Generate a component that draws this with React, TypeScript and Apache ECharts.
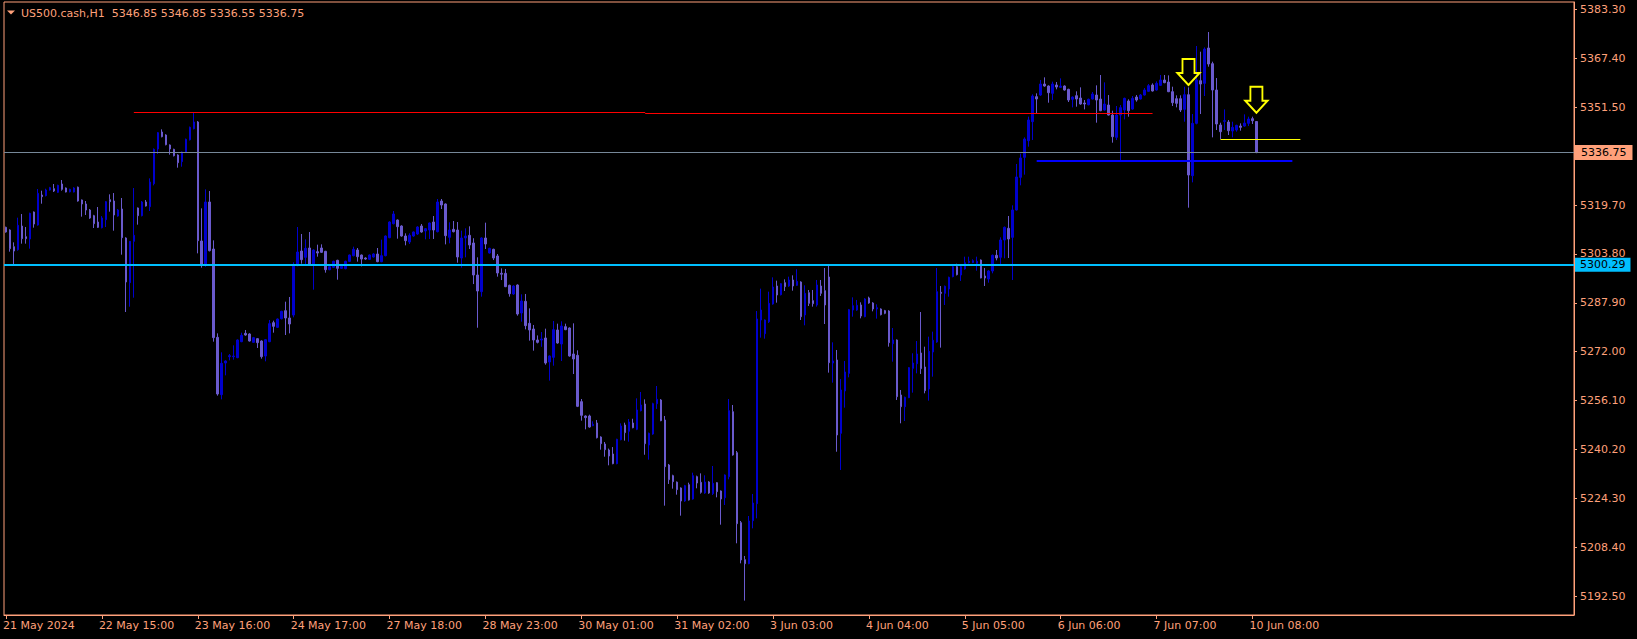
import React, { useEffect, useRef } from 'react';
import * as echarts from 'echarts';

const SYMBOL = 'US500.cash,H1';
const SALMON = '#ffa07a';
const BULL = '#0000cd';
const BEAR = '#6a5acd';

const TOTAL_SLOTS = 393;
const LABEL_STEP = 24;
const timeLabels = [
  '21 May 2024', '22 May 15:00', '23 May 16:00', '24 May 17:00', '27 May 18:00',
  '28 May 23:00', '30 May 01:00', '31 May 02:00', '3 Jun 03:00', '4 Jun 04:00',
  '5 Jun 05:00', '6 Jun 06:00', '7 Jun 07:00', '10 Jun 08:00',
];

const priceTicks = [
  5192.5, 5208.4, 5224.3, 5240.2, 5256.1, 5272.0, 5287.9, 5303.8,
  5319.7, 5335.6, 5351.5, 5367.4, 5383.3,
];
// 5335.60 sits under the current-price box in the reference, so its label is not drawn
const priceLabels = [
  5192.5, 5208.4, 5224.3, 5240.2, 5256.1, 5272.0, 5287.9, 5303.8,
  5319.7, 5351.5, 5367.4, 5383.3,
];
const priceMin = 5186.39;
const priceMax = 5385.71;

const open = [
  5312.44, 5311.57, 5306.15, 5305.18, 5312.87, 5309.40, 5308.65, 5317.42, 5313.20, 5322.95,
  5322.74, 5324.58, 5325.01, 5323.82, 5326.53, 5325.23, 5324.00, 5323.93, 5325.50, 5321.33,
  5320.03, 5318.07, 5316.23, 5314.17, 5312.33, 5314.93, 5321.43, 5321.00, 5316.12, 5318.40,
  5308.97, 5294.45, 5307.89, 5318.73, 5316.23, 5320.68, 5319.16, 5326.64, 5337.91, 5343.44,
  5342.46, 5339.21, 5337.80, 5335.96, 5333.79, 5336.82, 5340.94, 5344.52, 5346.69, 5308.00,
  5300.30, 5320.68, 5305.39, 5276.67, 5258.03, 5268.33, 5270.39, 5270.39, 5270.06, 5275.26,
  5277.97, 5277.76, 5275.05, 5276.24, 5275.48, 5270.60, 5275.26, 5281.44, 5279.92, 5282.74,
  5285.34, 5282.96, 5283.93, 5299.98, 5304.74, 5302.68, 5305.72, 5300.52, 5304.53, 5305.72,
  5304.64, 5298.67, 5299.43, 5301.71, 5299.11, 5299.00, 5301.38, 5303.23, 5305.07, 5303.44,
  5302.47, 5302.03, 5302.79, 5303.77, 5301.28, 5303.23, 5309.08, 5313.63, 5314.82, 5312.87,
  5309.62, 5307.67, 5309.62, 5310.27, 5312.87, 5311.25, 5311.57, 5314.17, 5311.03, 5321.00,
  5320.03, 5309.19, 5311.79, 5311.57, 5302.47, 5308.97, 5309.84, 5307.35, 5296.94, 5291.52,
  5308.97, 5304.10, 5305.29, 5303.12, 5297.50, 5297.48, 5293.58, 5290.76, 5293.69, 5284.59,
  5288.38, 5281.23, 5279.38, 5275.81, 5275.80, 5276.46, 5268.65, 5270.17, 5279.06, 5274.51,
  5280.14, 5279.71, 5271.26, 5270.82, 5255.76, 5251.10, 5251.10, 5247.95, 5248.82, 5244.27,
  5241.99, 5240.04, 5238.74, 5235.60, 5243.40, 5248.17, 5246.11, 5248.82, 5246.76, 5252.83,
  5255.00, 5241.67, 5245.24, 5255.10, 5256.30, 5249.80, 5235.16, 5231.70, 5229.60, 5227.69,
  5223.46, 5228.77, 5224.11, 5231.37, 5229.53, 5226.06, 5229.64, 5225.85, 5229.42, 5226.71,
  5224.54, 5231.37, 5252.50, 5239.17, 5216.42, 5204.39, 5203.08, 5217.07, 5222.59, 5282.31,
  5277.87, 5281.77, 5287.51, 5293.37, 5290.55, 5294.45, 5293.37, 5295.32, 5293.58, 5294.67,
  5283.94, 5291.20, 5288.60, 5287.19, 5293.37, 5291.85, 5296.29, 5268.33, 5269.31, 5245.47,
  5259.23, 5264.97, 5285.56, 5285.56, 5287.19, 5283.40, 5289.47, 5287.84, 5285.89, 5285.89,
  5285.35, 5285.24, 5274.62, 5275.81, 5257.93, 5254.13, 5257.06, 5266.60, 5268.11, 5271.59,
  5267.03, 5259.88, 5271.91, 5275.16, 5291.31, 5290.98, 5292.39, 5296.40, 5299.65, 5296.94,
  5298.90, 5300.95, 5301.00, 5300.74, 5301.82, 5296.62, 5295.64, 5298.24, 5303.34, 5302.69,
  5308.32, 5312.12, 5309.19, 5318.08, 5328.70, 5335.20, 5340.62, 5346.80, 5354.93, 5355.47,
  5359.04, 5358.39, 5356.01, 5358.72, 5357.96, 5358.39, 5357.31, 5354.06, 5355.25, 5354.49,
  5352.87, 5352.32, 5354.16, 5355.46, 5354.16, 5350.59, 5352.21, 5348.96, 5341.70, 5348.96,
  5350.59, 5353.51, 5350.91, 5354.81, 5354.16, 5355.46, 5356.66, 5358.72, 5357.09, 5358.61,
  5360.34, 5359.69, 5356.55, 5354.27, 5354.27, 5350.80, 5355.57, 5329.24, 5346.25, 5360.12,
  5359.26, 5370.75, 5365.65, 5357.09, 5345.71, 5346.90, 5346.69, 5343.76, 5344.09, 5345.38,
  5345.38, 5346.25, 5347.77, 5346.85,
];
const high = [
  5312.66, 5311.80, 5307.56, 5315.58, 5316.77, 5312.55, 5317.20, 5317.60, 5324.90, 5324.36,
  5325.00, 5325.60, 5326.53, 5326.30, 5327.83, 5325.40, 5325.00, 5325.50, 5325.70, 5321.50,
  5321.00, 5318.40, 5316.50, 5319.05, 5316.10, 5321.00, 5323.17, 5323.60, 5318.40, 5321.98,
  5309.20, 5308.00, 5325.23, 5318.90, 5321.00, 5321.33, 5328.37, 5338.10, 5343.44, 5344.30,
  5342.70, 5339.40, 5338.00, 5336.20, 5337.10, 5341.30, 5345.20, 5349.94, 5347.00, 5318.62,
  5324.79, 5324.25, 5308.21, 5277.97, 5271.80, 5269.20, 5271.25, 5274.07, 5276.00, 5278.19,
  5279.06, 5278.00, 5276.80, 5276.40, 5275.70, 5276.10, 5282.31, 5282.09, 5282.80, 5285.30,
  5288.27, 5289.79, 5301.06, 5312.55, 5310.27, 5308.54, 5310.92, 5305.30, 5306.80, 5306.91,
  5304.80, 5300.00, 5301.60, 5301.90, 5300.00, 5301.60, 5303.60, 5306.15, 5305.72, 5303.60,
  5302.70, 5303.60, 5304.00, 5305.72, 5308.43, 5309.80, 5314.40, 5317.75, 5315.00, 5313.10,
  5310.49, 5310.49, 5311.10, 5312.80, 5313.52, 5312.20, 5314.00, 5316.12, 5321.65, 5321.65,
  5320.20, 5314.07, 5314.50, 5314.17, 5311.36, 5312.11, 5312.77, 5308.90, 5302.69, 5309.20,
  5313.96, 5305.80, 5305.50, 5303.77, 5299.10, 5298.90, 5293.80, 5293.60, 5293.90, 5290.66,
  5290.77, 5286.10, 5280.70, 5277.30, 5278.40, 5279.49, 5270.80, 5281.99, 5281.12, 5281.88,
  5281.12, 5279.90, 5281.23, 5272.45, 5256.62, 5251.30, 5251.53, 5249.36, 5249.80, 5244.50,
  5242.65, 5240.50, 5241.00, 5243.70, 5248.70, 5248.93, 5250.12, 5250.20, 5256.84, 5258.90,
  5256.50, 5245.70, 5255.40, 5260.85, 5256.60, 5251.10, 5235.50, 5232.00, 5229.80, 5227.90,
  5228.70, 5229.42, 5232.67, 5231.70, 5232.45, 5231.80, 5229.90, 5234.84, 5229.60, 5226.90,
  5232.10, 5256.62, 5254.67, 5239.72, 5216.96, 5205.58, 5218.58, 5225.74, 5285.24, 5292.50,
  5282.50, 5291.52, 5296.18, 5295.10, 5294.30, 5295.53, 5296.40, 5296.83, 5298.80, 5294.90,
  5293.58, 5292.07, 5292.07, 5295.32, 5295.32, 5299.22, 5300.52, 5275.05, 5272.56, 5263.12,
  5268.98, 5285.90, 5289.68, 5288.82, 5288.06, 5289.40, 5289.90, 5288.10, 5287.41, 5286.10,
  5285.60, 5285.50, 5279.71, 5276.00, 5259.55, 5257.40, 5267.00, 5271.48, 5275.48, 5284.91,
  5273.64, 5276.89, 5278.52, 5299.22, 5293.37, 5293.50, 5296.40, 5300.52, 5300.60, 5299.90,
  5302.90, 5302.90, 5302.04, 5302.90, 5302.00, 5299.22, 5298.50, 5303.60, 5305.07, 5309.19,
  5312.70, 5316.13, 5319.60, 5333.04, 5336.40, 5341.70, 5348.43, 5355.69, 5356.01, 5360.35,
  5361.21, 5358.60, 5359.80, 5359.69, 5360.88, 5358.60, 5357.50, 5355.00, 5356.66, 5357.96,
  5353.84, 5354.30, 5356.44, 5358.61, 5361.97, 5359.58, 5355.46, 5350.37, 5351.89, 5352.21,
  5354.60, 5354.06, 5355.14, 5355.46, 5355.79, 5357.74, 5359.04, 5359.26, 5359.91, 5361.97,
  5361.97, 5361.86, 5358.17, 5355.36, 5355.36, 5358.17, 5357.96, 5349.29, 5371.40, 5369.55,
  5370.96, 5375.95, 5366.30, 5360.99, 5346.47, 5350.80, 5347.34, 5346.79, 5345.80, 5346.25,
  5349.18, 5348.42, 5348.42, 5346.85,
];
const low = [
  5310.71, 5304.53, 5300.19, 5304.85, 5307.13, 5307.13, 5305.50, 5312.33, 5313.00, 5320.13,
  5322.50, 5324.40, 5323.93, 5323.60, 5324.36, 5323.80, 5323.80, 5323.80, 5320.80, 5315.91,
  5316.45, 5315.20, 5312.22, 5312.22, 5312.10, 5312.55, 5317.53, 5311.35, 5315.90, 5303.55,
  5284.91, 5286.64, 5289.57, 5313.31, 5316.00, 5319.20, 5317.75, 5326.09, 5336.28, 5341.70,
  5339.10, 5336.07, 5335.50, 5331.84, 5332.16, 5336.60, 5340.70, 5344.30, 5303.98, 5299.32,
  5299.65, 5304.60, 5275.26, 5257.71, 5256.51, 5264.32, 5269.20, 5269.41, 5269.90, 5275.10,
  5277.20, 5275.30, 5274.90, 5273.21, 5269.74, 5268.87, 5275.10, 5278.19, 5279.70, 5282.50,
  5277.43, 5277.97, 5283.18, 5299.80, 5300.63, 5300.19, 5300.10, 5292.17, 5302.90, 5304.10,
  5297.70, 5298.50, 5299.20, 5295.42, 5298.90, 5298.80, 5301.20, 5303.00, 5301.28, 5299.76,
  5301.90, 5301.80, 5302.60, 5301.10, 5301.10, 5303.00, 5308.90, 5313.40, 5308.75, 5309.40,
  5306.59, 5307.02, 5309.40, 5310.00, 5310.70, 5308.54, 5308.65, 5308.65, 5310.80, 5318.40,
  5306.90, 5307.24, 5310.80, 5300.95, 5299.33, 5302.69, 5305.40, 5294.00, 5279.80, 5289.90,
  5305.40, 5303.90, 5301.80, 5296.40, 5295.30, 5293.00, 5289.90, 5290.50, 5283.72, 5281.77,
  5279.27, 5275.59, 5272.34, 5274.70, 5273.60, 5267.79, 5262.60, 5267.46, 5274.60, 5268.98,
  5279.00, 5270.39, 5264.75, 5254.00, 5249.58, 5246.76, 5247.30, 5247.80, 5243.80, 5240.15,
  5237.87, 5235.06, 5235.40, 5235.40, 5243.20, 5243.08, 5242.75, 5247.10, 5246.50, 5252.60,
  5238.50, 5236.90, 5245.00, 5253.40, 5249.40, 5221.94, 5229.00, 5227.47, 5225.52, 5218.69,
  5223.20, 5223.60, 5223.90, 5227.58, 5225.85, 5225.80, 5225.80, 5225.41, 5224.65, 5215.76,
  5222.16, 5230.50, 5238.20, 5209.70, 5203.19, 5191.06, 5202.90, 5214.57, 5217.82, 5276.57,
  5276.24, 5281.34, 5287.30, 5287.95, 5290.30, 5291.74, 5293.10, 5291.85, 5293.40, 5282.31,
  5280.58, 5286.86, 5286.65, 5286.65, 5290.12, 5281.01, 5265.19, 5261.94, 5239.48, 5233.54,
  5253.81, 5263.67, 5283.40, 5285.30, 5282.85, 5283.20, 5287.60, 5285.13, 5282.75, 5283.80,
  5284.20, 5273.64, 5268.77, 5256.30, 5248.72, 5249.48, 5256.90, 5258.69, 5264.97, 5264.76,
  5258.47, 5256.09, 5263.89, 5274.90, 5273.32, 5287.19, 5289.90, 5296.20, 5296.80, 5295.00,
  5298.70, 5300.70, 5300.80, 5298.35, 5295.86, 5293.37, 5294.45, 5297.49, 5301.71, 5300.09,
  5302.36, 5302.47, 5295.32, 5317.90, 5326.10, 5329.57, 5338.67, 5340.84, 5349.51, 5355.20,
  5358.17, 5352.97, 5353.84, 5357.31, 5357.80, 5356.90, 5353.19, 5351.45, 5351.67, 5352.32,
  5350.80, 5352.10, 5354.00, 5346.47, 5350.20, 5350.40, 5348.80, 5339.97, 5340.83, 5334.33,
  5347.55, 5348.42, 5350.70, 5353.30, 5354.00, 5355.30, 5356.50, 5356.60, 5356.90, 5358.40,
  5359.30, 5356.40, 5351.89, 5351.45, 5349.94, 5346.79, 5318.83, 5327.07, 5345.93, 5349.29,
  5355.14, 5364.68, 5341.70, 5344.09, 5341.16, 5344.09, 5342.46, 5341.70, 5343.54, 5343.87,
  5345.17, 5345.38, 5346.04, 5336.55,
];
const close = [
  5310.92, 5305.50, 5304.74, 5313.09, 5308.75, 5308.75, 5316.99, 5313.52, 5323.49, 5322.41,
  5324.58, 5325.34, 5324.25, 5326.09, 5324.79, 5323.93, 5324.79, 5325.23, 5321.00, 5320.03,
  5318.07, 5315.47, 5313.63, 5312.44, 5315.47, 5320.78, 5320.78, 5316.45, 5318.07, 5309.08,
  5294.67, 5307.89, 5309.84, 5316.23, 5320.68, 5319.37, 5327.18, 5337.80, 5343.22, 5341.92,
  5339.32, 5337.91, 5335.74, 5333.46, 5336.93, 5341.05, 5344.95, 5346.69, 5308.10, 5300.41,
  5320.68, 5304.85, 5276.57, 5258.25, 5268.22, 5268.98, 5270.71, 5270.60, 5275.81, 5277.32,
  5277.43, 5275.48, 5276.57, 5274.94, 5270.39, 5275.91, 5281.12, 5280.25, 5282.63, 5285.13,
  5282.96, 5281.01, 5300.30, 5304.42, 5301.93, 5305.61, 5300.30, 5305.07, 5304.09, 5304.31,
  5298.67, 5299.65, 5301.38, 5299.11, 5299.76, 5301.38, 5303.44, 5305.29, 5302.90, 5302.14,
  5302.14, 5303.44, 5303.77, 5301.28, 5303.23, 5309.62, 5314.17, 5316.77, 5312.66, 5309.62,
  5308.10, 5309.84, 5310.92, 5312.55, 5310.92, 5312.01, 5313.85, 5311.57, 5320.68, 5319.70,
  5309.73, 5311.57, 5311.03, 5302.80, 5308.97, 5309.62, 5306.70, 5296.94, 5291.74, 5308.97,
  5307.02, 5305.60, 5302.47, 5297.59, 5297.20, 5293.15, 5290.87, 5293.37, 5284.26, 5288.49,
  5280.47, 5279.06, 5275.81, 5275.05, 5276.13, 5268.33, 5270.61, 5279.17, 5274.83, 5280.36,
  5279.17, 5270.61, 5269.63, 5254.24, 5251.31, 5250.56, 5247.52, 5248.39, 5244.05, 5242.10,
  5240.15, 5238.09, 5235.60, 5243.51, 5247.85, 5245.68, 5249.15, 5247.30, 5253.05, 5254.67,
  5242.10, 5245.46, 5255.10, 5256.50, 5249.58, 5234.62, 5230.40, 5229.75, 5227.15, 5223.46,
  5228.45, 5223.79, 5231.70, 5229.31, 5226.28, 5229.64, 5226.06, 5229.20, 5226.50, 5224.11,
  5231.91, 5252.83, 5238.42, 5216.09, 5204.28, 5203.08, 5216.96, 5222.81, 5282.64, 5285.56,
  5282.31, 5287.73, 5293.04, 5290.44, 5294.12, 5293.15, 5295.32, 5293.37, 5294.88, 5283.39,
  5290.98, 5287.73, 5287.62, 5293.69, 5290.98, 5287.19, 5268.44, 5268.98, 5244.92, 5259.55,
  5265.41, 5285.67, 5286.97, 5287.08, 5283.61, 5289.14, 5287.84, 5285.89, 5286.32, 5284.05,
  5284.48, 5274.94, 5275.81, 5257.39, 5254.13, 5257.17, 5266.82, 5268.33, 5271.26, 5266.49,
  5259.34, 5272.13, 5275.70, 5291.52, 5290.98, 5293.26, 5296.18, 5299.65, 5297.05, 5299.65,
  5300.95, 5301.39, 5301.60, 5301.39, 5295.97, 5295.97, 5298.24, 5303.34, 5302.47, 5308.32,
  5312.44, 5308.65, 5318.08, 5328.81, 5334.99, 5341.16, 5347.34, 5355.14, 5354.17, 5359.05,
  5358.39, 5356.22, 5359.04, 5358.07, 5358.39, 5357.09, 5353.84, 5354.81, 5354.16, 5352.54,
  5352.54, 5354.06, 5355.79, 5353.84, 5350.37, 5352.54, 5348.96, 5341.92, 5348.96, 5351.35,
  5354.38, 5350.37, 5354.38, 5353.84, 5355.46, 5357.09, 5358.50, 5356.77, 5359.26, 5360.34,
  5359.48, 5356.55, 5352.97, 5352.76, 5350.59, 5355.57, 5329.45, 5346.25, 5360.34, 5359.04,
  5370.42, 5365.54, 5357.09, 5346.04, 5343.54, 5347.12, 5343.87, 5344.95, 5345.60, 5344.95,
  5346.36, 5347.66, 5347.12, 5336.75,
];

// horizontal objects drawn on the chart: [startBar, endBar, price]
const redLevel1 = [32, 160, 5349.84];
const redLevel2 = [160, 287, 5349.52];
const blueLevel = [258, 322, 5334.07];
const yellowLevel = [304, 324, 5341.16];
const bidLine = 5336.75;
const cyanLevel = 5300.29;
// arrow signals: [bar, price at arrow tip]
const arrowSignals = [
  [296, 5358.72],
  [313, 5349.71],
];

const ARROW_PATH = 'path://M5,0L17,0L17,14L22,14L11,26L0,14L5,14Z';

export default function App() {
  const ref = useRef<HTMLDivElement | null>(null);

  useEffect(() => {
    if (!ref.current) return;
    const chart = echarts.init(ref.current, null, { renderer: 'svg' });

    const categories: string[] = [];
    for (let i = 0; i < TOTAL_SLOTS; i++) {
      const k = i / LABEL_STEP;
      categories.push(i % LABEL_STEP === 0 && k < timeLabels.length ? timeLabels[k] : '');
    }
    const candles = open.map((o, i) => [o, close[i], low[i], high[i]]);
    const last = open.length - 1;
    const titleText =
      SYMBOL + '\u00a0\u00a0' +
      [open[last], high[last], low[last], close[last]].map((v) => v.toFixed(2)).join(' ');

    const seg = (s: number[], color: string, width: number) => [
      { coord: [s[0], s[2]], lineStyle: { color, width, type: 'solid' } },
      { coord: [s[1], s[2]] },
    ];
    const showLabel = (i: number) => i % LABEL_STEP === 0 && categories[i] !== '';

    const font = 'DejaVu Sans';

    chart.setOption({
      animation: false,
      backgroundColor: '#000000',
      grid: {
        left: 2, top: 2, width: 1572, height: 613,
        show: true, borderColor: SALMON, borderWidth: 1, backgroundColor: '#000000',
      },
      xAxis: {
        type: 'category',
        data: categories,
        boundaryGap: true,
        axisLine: { show: true, lineStyle: { color: SALMON, width: 1 } },
        axisTick: {
          show: true, alignWithLabel: true, length: 4,
          interval: (i: number) => showLabel(i),
          lineStyle: { color: SALMON },
        },
        axisLabel: {
          interval: (i: number) => showLabel(i),
          align: 'left', color: SALMON, fontSize: 11, fontFamily: font, margin: 5,
          padding: [0, 0, 0, -3],
        },
        splitLine: { show: false },
      },
      yAxis: {
        type: 'value',
        position: 'right',
        min: priceMin,
        max: priceMax,
        scale: true,
        axisLine: { show: true, lineStyle: { color: SALMON, width: 1 } },
        axisTick: { show: true, length: 3, customValues: priceTicks, lineStyle: { color: SALMON } },
        axisLabel: {
          customValues: priceLabels,
          formatter: (v: number) => v.toFixed(2),
          color: SALMON, fontSize: 11, fontFamily: font, margin: 6,
        },
        splitLine: { show: false },
      },
      graphic: [
        {
          type: 'polygon',
          shape: { points: [[7, 10.5], [15, 10.5], [11, 14.5]] },
          style: { fill: SALMON },
        },
        {
          type: 'text',
          x: 21, y: 13,
          style: {
            text: titleText, fill: SALMON, font: '11px "DejaVu Sans"',
            textVerticalAlign: 'middle', verticalAlign: 'middle',
          },
        },
      ],
      series: [
        {
          type: 'candlestick',
          data: candles,
          barWidth: 2,
          itemStyle: {
            color: BULL, color0: BEAR, borderColor: BULL, borderColor0: BEAR, borderWidth: 1,
          },
          markLine: {
            silent: true,
            symbol: ['none', 'none'],
            animation: false,
            label: { show: false },
            data: [
              {
                yAxis: cyanLevel,
                lineStyle: { color: '#00bfff', width: 2, type: 'solid' },
                label: {
                  show: true, position: 'end', distance: 1,
                  formatter: (p: any) => Number(p.value).toFixed(2),
                  backgroundColor: '#00bfff', color: '#000000',
                  fontSize: 11, fontFamily: font, lineHeight: 12, padding: [1, 5, 1, 5],
                },
              },
              {
                yAxis: bidLine,
                lineStyle: { color: '#778899', width: 1, type: 'solid' },
                label: {
                  show: true, position: 'end', distance: 1,
                  formatter: (p: any) => Number(p.value).toFixed(2),
                  backgroundColor: SALMON, color: '#000000',
                  fontSize: 11, fontFamily: font, lineHeight: 12, padding: [2, 6, 1, 6],
                },
              },
              seg(redLevel1, '#ff0000', 1),
              seg(redLevel2, '#ff0000', 1),
              seg(blueLevel, '#0000ff', 2),
              seg(yellowLevel, '#ffff00', 1),
            ],
          },
          markPoint: {
            silent: true,
            animation: false,
            symbol: ARROW_PATH,
            symbolSize: [22, 26],
            symbolOffset: [0, '-50%'],
            label: { show: false },
            itemStyle: { color: 'rgba(0,0,0,0)', borderColor: '#ffff00', borderWidth: 2 },
            data: arrowSignals.map((a) => ({ coord: [a[0], a[1]] })),
          },
        },
      ],
    });

    return () => {
      chart.dispose();
    };
  }, []);

  return (
    <div
      ref={ref}
      style={{
        position: 'fixed', left: 0, top: 0, width: '1637px', height: '639px', background: '#000',
      }}
    />
  );
}
